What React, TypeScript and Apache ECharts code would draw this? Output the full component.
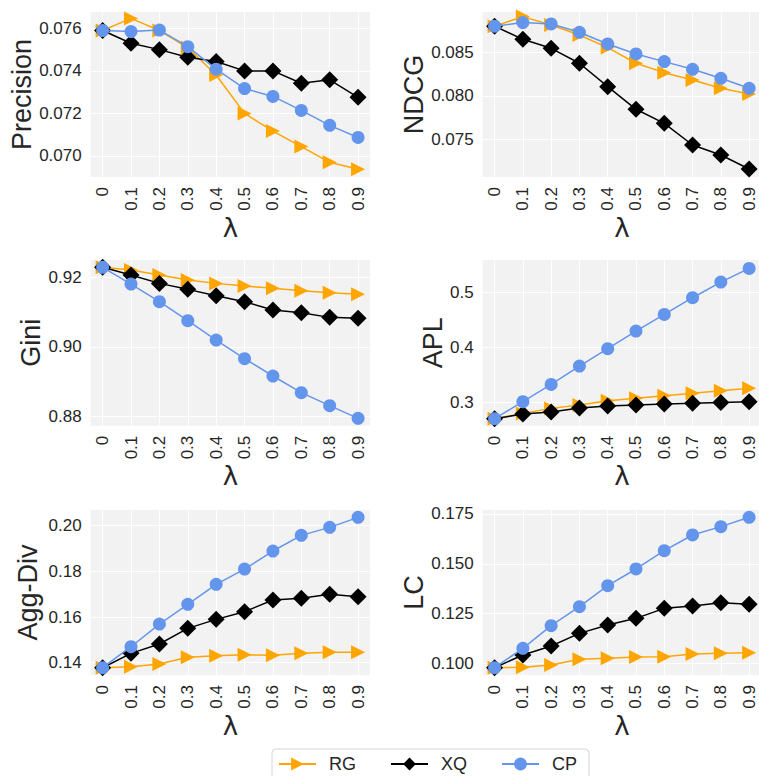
import React, { useEffect, useRef } from 'react';
import * as echarts from 'echarts';

const lambdas = [0, 0.1, 0.2, 0.3, 0.4, 0.5, 0.6, 0.7, 0.8, 0.9];
const methodNames = ['RG', 'XQ', 'CP'];

const precisionRG = [0.0759, 0.07647, 0.0759, 0.0751, 0.07381, 0.072, 0.07117, 0.07044, 0.0697, 0.06937];
const precisionXQ = [0.0759, 0.0753, 0.075, 0.07464, 0.07444, 0.074, 0.074, 0.07342, 0.07358, 0.07276];
const precisionCP = [0.0759, 0.07585, 0.07592, 0.07514, 0.07408, 0.07317, 0.0728, 0.07214, 0.07144, 0.07087];
const precisionTicks = [0.07, 0.072, 0.074, 0.076];

const ndcgRG = [0.088, 0.0891, 0.08814, 0.08699, 0.08554, 0.08374, 0.08266, 0.08182, 0.08086, 0.08021];
const ndcgXQ = [0.088, 0.08649, 0.08546, 0.08374, 0.08105, 0.07845, 0.07684, 0.07435, 0.0732, 0.07159];
const ndcgCP = [0.088, 0.08841, 0.08826, 0.0873, 0.08596, 0.08481, 0.08393, 0.08305, 0.08201, 0.08086];
const ndcgTicks = [0.075, 0.08, 0.085];

const giniRG = [0.923, 0.92222, 0.92077, 0.91933, 0.91836, 0.91759, 0.91692, 0.91624, 0.91566, 0.91518];
const giniXQ = [0.923, 0.92077, 0.91836, 0.91663, 0.9148, 0.91306, 0.91065, 0.90988, 0.90853, 0.90824];
const giniCP = [0.923, 0.91817, 0.91306, 0.90757, 0.90198, 0.89658, 0.89157, 0.88675, 0.88299, 0.87933];
const giniTicks = [0.88, 0.9, 0.92];

const aplRG = [0.271, 0.2806, 0.2897, 0.2958, 0.3036, 0.3079, 0.3127, 0.317, 0.3218, 0.3261];
const aplXQ = [0.271, 0.2794, 0.283, 0.2903, 0.2939, 0.2958, 0.2976, 0.2988, 0.3006, 0.3018];
const aplCP = [0.271, 0.3018, 0.3333, 0.3667, 0.3982, 0.4303, 0.4606, 0.4909, 0.5194, 0.5442];
const aplTicks = [0.3, 0.4, 0.5];

const aggDivRG = [0.1378, 0.13825, 0.13942, 0.14234, 0.14307, 0.1435, 0.14321, 0.14409, 0.14453, 0.14453];
const aggDivXQ = [0.1378, 0.14409, 0.14818, 0.15504, 0.15898, 0.16234, 0.16745, 0.16818, 0.16993, 0.16891];
const aggDivCP = [0.1378, 0.147, 0.15693, 0.16555, 0.17431, 0.18102, 0.18891, 0.19577, 0.19927, 0.20365];
const aggDivTicks = [0.14, 0.16, 0.18, 0.2];

const lcRG = [0.0978, 0.09797, 0.09915, 0.10199, 0.1025, 0.10317, 0.10333, 0.10467, 0.10501, 0.10534];
const lcXQ = [0.0978, 0.10417, 0.10869, 0.11505, 0.11924, 0.12259, 0.12761, 0.12878, 0.13046, 0.12962];
const lcCP = [0.0978, 0.10752, 0.11891, 0.12845, 0.139, 0.14737, 0.15658, 0.16445, 0.16864, 0.17333];
const lcTicks = [0.1, 0.125, 0.15, 0.175];

const FONT = '"Liberation Sans", Arial, sans-serif';
const TEXT = '#262626';

const seriesStyles = [
  { color: '#FFA500', symbol: 'triangle', size: 14, rotate: -90 },
  { color: '#000000', symbol: 'diamond', size: 17, rotate: 0 },
  { color: '#6495ED', symbol: 'circle', size: 13, rotate: 0 },
];

const panels = [
  { title: 'Precision', values: [precisionRG, precisionXQ, precisionCP], ticks: precisionTicks, digits: 3, min: 0.06901, max: 0.07677, left: 90.7, top: 12, width: 279.3, height: 165, nameGap: 54 },
  { title: 'NDCG', values: [ndcgRG, ndcgXQ, ndcgCP], ticks: ndcgTicks, digits: 3, min: 0.07067, max: 0.08963, left: 482.7, top: 12, width: 278.3, height: 165, nameGap: 54.5 },
  { title: 'Gini', values: [giniRG, giniXQ, giniCP], ticks: giniTicks, digits: 2, min: 0.8772, max: 0.92512, left: 90.7, top: 260, width: 279.3, height: 165.7, nameGap: 45 },
  { title: 'APL', values: [aplRG, aplXQ, aplCP], ticks: aplTicks, digits: 1, min: 0.2582, max: 0.5595, left: 482.7, top: 260, width: 278.3, height: 165.7, nameGap: 35.3 },
  { title: 'Agg-Div', values: [aggDivRG, aggDivXQ, aggDivCP], ticks: aggDivTicks, digits: 2, min: 0.13461, max: 0.20688, left: 90.7, top: 510, width: 279.3, height: 165, nameGap: 49 },
  { title: 'LC', values: [lcRG, lcXQ, lcCP], ticks: lcTicks, digits: 3, min: 0.09413, max: 0.177, left: 482.7, top: 510, width: 278.3, height: 165, nameGap: 54.5 },
];

export default function App() {
  const ref = useRef<HTMLDivElement>(null);
  useEffect(() => {
    if (!ref.current) return;
    const chart = echarts.init(ref.current, null, { renderer: 'svg' });
    const grid = panels.map((p) => ({
      left: p.left,
      top: p.top,
      width: p.width,
      height: p.height,
      show: true,
      backgroundColor: '#f2f2f2',
      borderWidth: 0,
      outerBoundsMode: 'none',
      containLabel: false,
    }));
    const xAxis = panels.map((p, i) => ({
      type: 'value',
      gridIndex: i,
      min: -0.042,
      max: 0.942,
      name: 'λ',
      nameLocation: 'middle',
      nameGap: 30,
      nameTextStyle: { fontFamily: '"DejaVu Sans", sans-serif', fontSize: 26, color: TEXT },
      axisLine: { show: false },
      axisTick: { show: false, customValues: lambdas },
      axisLabel: {
        customValues: lambdas,
        rotate: 90,
        margin: 10,
        fontSize: 17,
        fontFamily: FONT,
        color: TEXT,
        formatter: (v: number) => String(v),
      },
      splitLine: { show: true, lineStyle: { color: '#ffffff', width: 1 } },
    }));
    const yAxis = panels.map((p, i) => ({
      type: 'value',
      gridIndex: i,
      min: p.min,
      max: p.max,
      name: p.title,
      nameLocation: 'middle',
      nameRotate: 90,
      nameGap: p.nameGap,
      nameTextStyle: { fontFamily: FONT, fontSize: 27, color: TEXT },
      axisLine: { show: false },
      axisTick: { show: false, customValues: p.ticks },
      axisLabel: {
        customValues: p.ticks,
        margin: 9,
        fontSize: 17,
        fontFamily: FONT,
        color: TEXT,
        formatter: (v: number) => v.toFixed(p.digits),
      },
      splitLine: { show: true, lineStyle: { color: '#ffffff', width: 1 } },
    }));
    const series: any[] = [];
    panels.forEach((p, i) => {
      methodNames.forEach((name, s) => {
        const st = seriesStyles[s];
        series.push({
          type: 'line',
          name,
          xAxisIndex: i,
          yAxisIndex: i,
          data: lambdas.map((x, k) => [x, p.values[s][k]]),
          symbol: st.symbol,
          symbolSize: st.size,
          symbolRotate: st.rotate,
          showAllSymbol: true,
          lineStyle: { color: st.color, width: 1.5 },
          itemStyle: { color: st.color },
          z: 2 + s,
          clip: false,
        });
      });
    });
    chart.setOption({
      animation: false,
      backgroundColor: '#ffffff',
      grid,
      xAxis,
      yAxis,
      series,
      legend: {
        data: methodNames,
        left: 272,
        top: 749,
        orient: 'horizontal',
        itemWidth: 37,
        itemHeight: 16,
        itemGap: 34,
        padding: [6, 12, 8, 6],
        backgroundColor: '#ffffff',
        borderColor: '#d6d6d6',
        borderWidth: 1,
        borderRadius: 4,
        textStyle: { fontSize: 18, fontFamily: FONT, color: TEXT, padding: [0, 0, 0, 8] },
      },
    });
    return () => chart.dispose();
  }, []);
  return <div ref={ref} style={{ position: 'fixed', left: 0, top: 0, width: 759, height: 776 }} />;
}
